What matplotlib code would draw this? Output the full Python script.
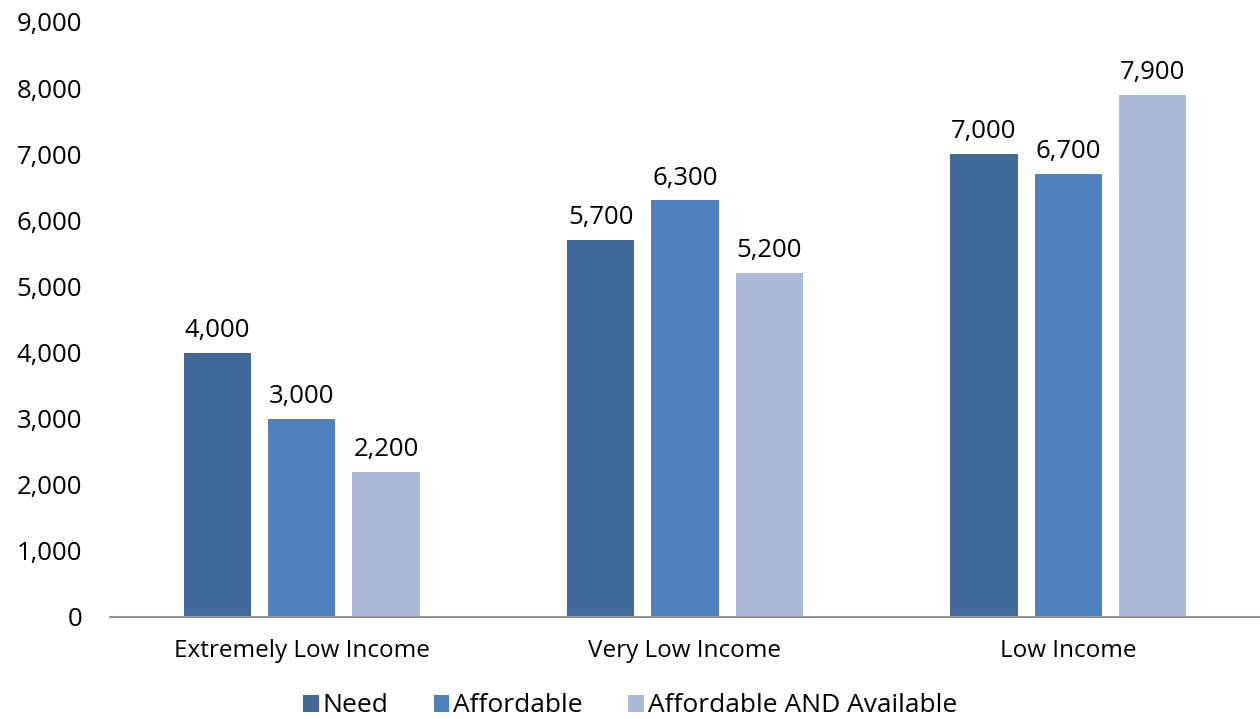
import matplotlib
matplotlib.use("Agg")
import matplotlib.pyplot as plt
import numpy as np
from matplotlib.ticker import FuncFormatter

categories = ["Extremely Low Income", "Very Low Income", "Low Income"]
series_names = ["Need", "Affordable", "Affordable AND Available"]
need = [4000, 5700, 7000]
affordable = [3000, 6300, 6700]
available = [2200, 5200, 7900]
colors = ["#416A9B", "#4F81BD", "#AAB9D7"]

plt.rcParams['font.family'] = ['Open Sans', 'DejaVu Sans']
FS_NUM = 18.5
FS_TXT = 17.5

fig = plt.figure(figsize=(12.6, 7.19), dpi=100)
ax = fig.add_axes([110/1260, 1 - 617/719, 1150/1260, (617-22)/719])

x = np.arange(len(categories))
width = 0.175
step = 0.22
for i, (vals, name, c) in enumerate(zip([need, affordable, available], series_names, colors)):
    bars = ax.bar(x + (i - 1) * step, vals, width, color=c, label=name)
    for b, v in zip(bars, vals):
        ax.text(b.get_x() + b.get_width() / 2, v + 150, f"{v:,}",
                ha="center", va="bottom", fontsize=FS_NUM)

ax.set_xlim(-0.5, 2.5)
ax.set_ylim(0, 9000)
ax.set_yticks(range(0, 9001, 1000))
ax.yaxis.set_major_formatter(FuncFormatter(lambda v, p: f"{int(v):,}"))
ax.set_xticks(x)
ax.set_xticklabels(categories, fontsize=FS_TXT)
ax.tick_params(axis="both", length=0)
ax.tick_params(axis="y", pad=20, labelsize=FS_NUM)
ax.tick_params(axis="x", pad=16)
for s in ["left", "right", "top"]:
    ax.spines[s].set_visible(False)
ax.spines["bottom"].set_color("#969696")
ax.spines["bottom"].set_linewidth(1.5)

fig.legend(loc="center", bbox_to_anchor=(0.5, 1 - 706/719), ncol=3, frameon=False,
           fontsize=19, handlelength=0.6, handleheight=0.6, handletextpad=0.15,
           columnspacing=1.7)

fig.savefig("out.png", dpi=100)
